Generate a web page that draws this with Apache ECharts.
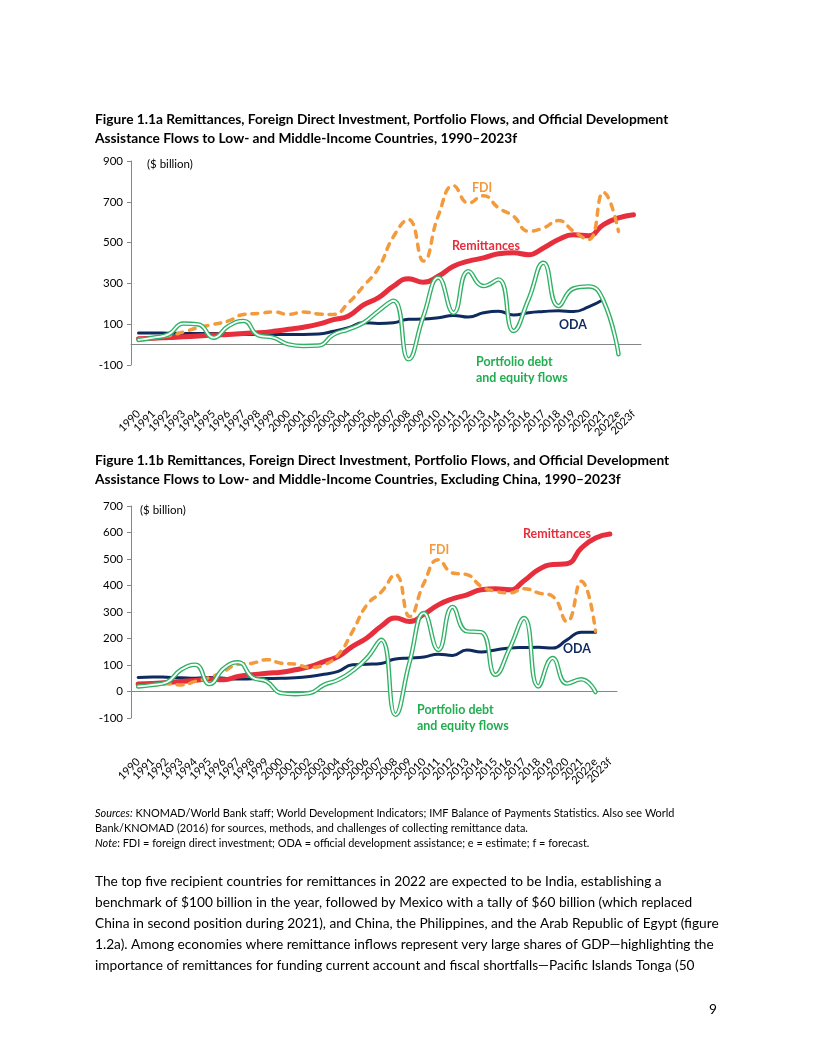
<!DOCTYPE html>
<html><head><meta charset="utf-8">
<script src="https://cdn.jsdelivr.net/npm/echarts@6.0.0/dist/echarts.min.js"></script>
<style>html,body{margin:0;padding:0;background:#fff}#c{width:816px;height:1056px}</style>
</head><body><div id="c"></div>
<script>
// ---------- data ----------
const years = ['1990','1991','1992','1993','1994','1995','1996','1997','1998','1999','2000','2001','2002','2003','2004','2005','2006','2007','2008','2009','2010','2011','2012','2013','2014','2015','2016','2017','2018','2019','2020','2021','2022e','2023f'];
const ticksA = [-100, 100, 300, 500, 700, 900];
const ticksB = [-100, 0, 100, 200, 300, 400, 500, 600, 700];

// Figure 1.1a: all low- and middle-income countries
const remitA = [29,31,35,38,42,47,50,55,58,65,75,85,100,122,140,195,230,287,323,306,336,384,409,425,445,450,441,474,515,539,534,588,621,637];
const fdiA   = [26,32,43,62,83,99,116,148,153,160,148,160,150,148,205,287,376,530,613,410,635,779,694,730,670,629,556,572,608,556,515,746,555];
const odaA   = [57,57,56,55,55,55,53,50,50,50,50,50,52,65,83,107,104,107,124,125,132,143,135,156,164,145,156,162,166,162,185,221];
const portA  = [23,34,50,103,99,34,91,116,45,34,1,-7,-5,49,75,107,165,215,-72,140,328,156,360,287,319,67,221,401,189,275,285,215,-47];

// Figure 1.1b: excluding China
const remitB = [28,30,34,38,42,47,44,57,63,69,73,82,94,113,132,170,202,246,277,264,292,327,350,365,384,388,384,418,460,479,482,541,579,594];
const fdiB   = [19,23,29,25,38,53,76,103,107,120,107,103,91,101,139,227,327,375,441,283,410,497,447,441,397,378,372,388,372,359,264,416,227];
const odaB   = [53,55,54,52,50,53,50,47,48,49,50,52,57,65,76,101,103,106,123,126,130,141,136,157,149,157,164,166,167,164,195,224,224];
const portB  = [19,25,35,82,101,28,88,110,53,38,-6,-10,-6,25,44,78,126,195,-88,113,296,157,319,227,224,63,164,277,19,126,30,46,-2];

// ---------- styles ----------
const FONT = 'Lato, "Open Sans", sans-serif';
const RED = '#E62E3D', ORANGE = '#F29A3C', NAVY = '#0E2A5E', GREEN = '#2FB265', GREENTXT = '#21AE50';
const AXIS = '#868686';

const mctx = document.createElement('canvas').getContext('2d');
function measure(text, size, weight, style){ mctx.font = (style||'normal')+' '+(weight||'normal')+' '+size+'px Lato'; return mctx.measureText(text).width; }
function fit(text, target, weight, style){ return 100*target/measure(text,100,weight,style); }

const G = [];
function T(x, y, text, size, o){
  o = o || {};
  G.push({type:'text', x:x, y:y, silent:true, z:100, style:{
    text:text, fontSize:size, fontFamily:FONT, fontWeight:o.w||'normal', fontStyle:o.s||'normal',
    fill:o.c||'#000', textAlign:o.a||'left', align:o.a||'left', textVerticalAlign:'middle', verticalAlign:'middle'}});
}

// titles
const t1a = 'Figure 1.1a Remittances, Foreign Direct Investment, Portfolio Flows, and Official Development';
const t1b = 'Assistance Flows to Low- and Middle-Income Countries, 1990\u20132023f';
const t2a = 'Figure 1.1b Remittances, Foreign Direct Investment, Portfolio Flows, and Official Development';
const t2b = 'Assistance Flows to Low- and Middle-Income Countries, Excluding China, 1990\u20132023f';
const ts = fit(t1a, 574, 'bold');
T(95,120,t1a,ts,{w:'bold'}); T(95,139,t1b,ts,{w:'bold'});
T(95,461,t2a,ts,{w:'bold'}); T(95,480,t2b,ts,{w:'bold'});

// sources / note
const s1i = 'Sources:', s1r = ' KNOMAD/World Bank staff; World Development Indicators; IMF Balance of Payments Statistics. Also see World';
const s2 = 'Bank/KNOMAD (2016) for sources, methods, and challenges of collecting remittance data.';
const s3i = 'Note', s3r = ': FDI = foreign direct investment; ODA = official development assistance; e = estimate; f = forecast.';
const ss = fit(s1i+s1r, 583);
T(95,813,s1i,ss,{s:'italic'}); T(95+measure(s1i,ss,'normal','italic'),813,s1r,ss);
T(95,828,s2,ss);
T(95,843,s3i,ss,{s:'italic'}); T(95+measure(s3i,ss,'normal','italic'),843,s3r,ss);

// paragraph
const para = [
 'The top five recipient countries for remittances in 2022 are expected to be India, establishing a',
 'benchmark of $100 billion in the year, followed by Mexico with a tally of $60 billion (which replaced',
 'China in second position during 2021), and China, the Philippines, and the Arab Republic of Egypt (figure',
 '1.2a). Among economies where remittance inflows represent very large shares of GDP\u2014highlighting the',
 'importance of remittances for funding current account and fiscal shortfalls\u2014Pacific Islands Tonga (50'
];
const ps = fit(para[2], 624);
para.forEach((l,i)=>T(95, 882+21*i, l, ps));
T(713,1010,'9',ps,{a:'center'});

// in-chart labels
const ls = fit('Remittances', 68, 'bold');
T(147,164,'($ billion)',11.5); T(140,510,'($ billion)',11.5);
T(482,188,'FDI',ls,{w:'bold',c:ORANGE,a:'center'});
T(486,246,'Remittances',ls,{w:'bold',c:RED,a:'center'});
T(573,325,'ODA',ls,{w:'bold',c:NAVY,a:'center'});
T(476,362,'Portfolio debt',ls,{w:'bold',c:GREENTXT});
T(476,378,'and equity flows',ls,{w:'bold',c:GREENTXT});
T(439,550,'FDI',ls,{w:'bold',c:ORANGE,a:'center'});
T(557,534,'Remittances',ls,{w:'bold',c:RED,a:'center'});
T(577,649,'ODA',ls,{w:'bold',c:NAVY,a:'center'});
T(417,710,'Portfolio debt',ls,{w:'bold',c:GREENTXT});
T(417,726,'and equity flows',ls,{w:'bold',c:GREENTXT});

function xAx(g, margin){
  return {gridIndex:g, type:'category', data:years, boundaryGap:true,
    axisLine:{onZero:true, lineStyle:{color:AXIS, width:1}},
    axisTick:{alignWithLabel:true, length:4, lineStyle:{color:AXIS}},
    axisLabel:{interval:0, rotate:45, margin:margin, fontSize:11, color:'#000', fontFamily:FONT},
    splitLine:{show:false}};
}
function yAx(g, ticks){
  const iv = ticks[1]-ticks[0];
  return {gridIndex:g, type:'value', min:ticks[0], max:ticks[ticks.length-1], interval:iv,
    axisLine:{show:true, lineStyle:{color:AXIS}}, axisTick:{show:true, length:4, lineStyle:{color:AXIS}},
    axisLabel:{fontSize:11.5, color:'#000', margin:8, fontFamily:FONT}, splitLine:{show:false}};
}
function S(g, data, color, width, dash, z){
  return {type:'line', xAxisIndex:g, yAxisIndex:g, data:data, smooth:true, symbol:'none', showSymbol:false,
    z:z, silent:true, lineStyle:{color:color, width:width, type:dash||'solid', cap:'round', join:'round'}};
}
function series(g, remit, fdi, oda, port){
  return [
    S(g, oda, NAVY, 3, null, 2),
    S(g, remit, RED, 5, null, 3),
    S(g, fdi, ORANGE, 3.5, [6,7], 4),
    S(g, port, GREEN, 4.5, null, 5),
    S(g, port, '#ffffff', 1.8, null, 6)
  ];
}

const chart = echarts.init(document.getElementById('c'), null, {renderer:'canvas'});
chart.setOption({
  animation:false, backgroundColor:'#fff',
  grid:[{left:131, top:161, width:510, height:204},{left:131, top:506, width:486, height:212}],
  xAxis:[xAx(0,47), xAx(1,42)],
  yAxis:[yAx(0,ticksA), yAx(1,ticksB)],
  series:[].concat(series(0,remitA,fdiA,odaA,portA), series(1,remitB,fdiB,odaB,portB)),
  graphic:G
});
</script></body></html>
